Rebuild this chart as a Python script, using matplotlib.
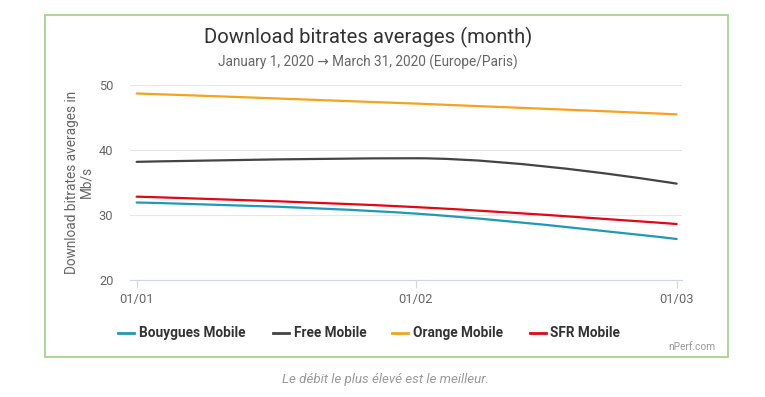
import numpy as np
import matplotlib
matplotlib.use("Agg")
import matplotlib.pyplot as plt
from matplotlib.path import Path
from matplotlib.patches import PathPatch, Rectangle
from matplotlib.lines import Line2D

plt.rcParams['font.family'] = ['Roboto', 'DejaVu Sans']

# data
days = [0, 31, 60]
tick_labels = ["01/01", "01/02", "01/03"]
operators = ["Bouygues Mobile", "Free Mobile", "Orange Mobile", "SFR Mobile"]
bouygues = [31.9, 30.2, 26.3]
free = [38.15, 38.7, 34.8]
orange = [48.65, 47.1, 45.45]
sfr = [32.8, 31.2, 28.6]
colors = ["#1f99ba", "#444444", "#f7a21b", "#e30613"]


def spline_path(xs, ys, smoothing=1.5):
    # highcharts-like spline: bezier control points per point
    n = len(xs)
    denom = smoothing + 1
    left, right = [], []
    for i in range(n):
        x, y = xs[i], ys[i]
        if 0 < i < n - 1:
            px, py = xs[i - 1], ys[i - 1]
            nx, ny = xs[i + 1], ys[i + 1]
            lx = (smoothing * x + px) / denom
            ly = (smoothing * y + py) / denom
            rx = (smoothing * x + nx) / denom
            ry = (smoothing * y + ny) / denom
            corr = (ry - ly) * (rx - x) / (rx - lx) + y - ry
            ly += corr
            ry += corr
            # no false extremes
            if ly > py and ly > y:
                ly = max(py, y)
                ry = 2 * y - ly
            elif ly < py and ly < y:
                ly = min(py, y)
                ry = 2 * y - ly
            if ry > ny and ry > y:
                ry = max(ny, y)
                ly = 2 * y - ry
            elif ry < ny and ry < y:
                ry = min(ny, y)
                ly = 2 * y - ry
            left.append((lx, ly))
            right.append((rx, ry))
        else:
            left.append((x, y))
            right.append((x, y))
    verts = [(xs[0], ys[0])]
    codes = [Path.MOVETO]
    for i in range(1, n):
        verts += [right[i - 1], left[i], (xs[i], ys[i])]
        codes += [Path.CURVE4] * 3
    return Path(verts, codes)


W, H = 765, 397
fig = plt.figure(figsize=(7.65, 3.97), dpi=100)

# green frame
fig.add_artist(Rectangle((44.5 / W, 1 - 357 / H), (727.5 - 44.5) / W, (357 - 15) / H,
                         transform=fig.transFigure, fill=False, edgecolor="#a9d38a", lw=1.3))

ax = fig.add_axes([130 / W, 1 - 280 / H, (682 - 130) / W, (280 - 84.7) / H])
ax.set_xlim(-0.74, 60.6)
ax.set_ylim(20, 50)

for vals, c in zip([bouygues, free, orange, sfr], colors):
    ax.add_patch(PathPatch(spline_path(days, vals), fill=False, edgecolor=c, lw=1.6,
                           capstyle="round", zorder=3))

ax.set_yticks([20, 30, 40, 50])
ax.set_xticks(days)
ax.set_xticklabels(tick_labels)
ax.grid(axis="y", color="#e6e6e6", lw=0.8)
ax.set_axisbelow(True)
for s in ["top", "right", "left"]:
    ax.spines[s].set_visible(False)
ax.spines["bottom"].set_color("#ccd6eb")
ax.tick_params(axis="y", length=0, pad=12, labelsize=9.3, labelcolor="#666666")
ax.tick_params(axis="x", length=6, color="#ccd6eb", pad=3, labelsize=9.3, labelcolor="#666666")

fig.text(368 / W, 1 - 37 / H, "Download bitrates averages (month)", ha="center", va="center",
         fontsize=14.6, color="#333333")
fig.text(368 / W, 1 - 62 / H, "January 1, 2020 \u2192 March 31, 2020 (Europe/Paris)",
         ha="center", va="center", fontsize=9.8, color="#666666")
fig.text(79 / W, 1 - 182 / H, "Download bitrates averages in\nMb/s", rotation=90,
         ha="center", va="center", multialignment="center", fontsize=9.8, color="#666666",
         linespacing=1.05)

# legend, laid out by hand so the labels share one baseline
legend_x = [139, 293.5, 413, 550.5]
for name, c, tx in zip(operators, colors, legend_x):
    fig.add_artist(Line2D([(tx - 21) / W, (tx - 5) / W], [1 - 332.5 / H] * 2, color=c, lw=2,
                          transform=fig.transFigure))
    fig.text(tx / W, 1 - 337 / H, name, ha="left", va="baseline", fontsize=9.8,
             fontweight="bold", color="#333333")

fig.text(715 / W, 1 - 347.5 / H, "nPerf.com", ha="right", va="center", fontsize=7.3,
         color="#999999")
fig.text(386 / W, 1 - 379 / H, "Le débit le plus élevé est le meilleur.", ha="center",
         va="center", fontsize=9.6, style="italic", color="#999999")

fig.savefig("out.png", dpi=100)
